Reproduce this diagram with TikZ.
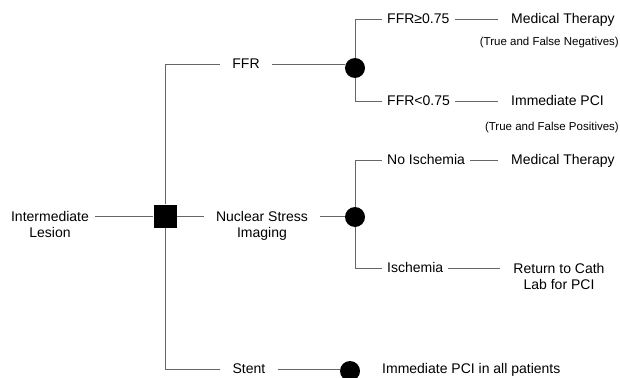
\documentclass[tikz,border=0pt]{standalone}
\usepackage{fontspec}
\setmainfont{Liberation Sans}
\usetikzlibrary{positioning}

\begin{document}
\begin{tikzpicture}[x=1pt, y=-1pt,
  branch/.style={line width=0.6pt, draw=black!60},
  optlbl/.style={font=\fontsize{14}{16}\selectfont, inner xsep=12pt, inner ysep=2pt, align=center},
  onerow/.style={text height=10pt, text depth=1pt},
  condlbl/.style={font=\fontsize{14}{16}\selectfont, inner xsep=5pt, inner ysep=2pt, onerow, anchor=west},
  outlbl/.style={font=\fontsize{14}{16}\selectfont, inner xsep=13pt, inner ysep=2pt, align=center},
  notelbl/.style={font=\fontsize{11.5}{13}\selectfont, inner sep=1pt, anchor=east},
  decbox/.style={rectangle, fill=black, inner sep=0pt, minimum size=23pt},
  chance/.style={circle, fill=black, inner sep=0pt, minimum size=20pt},
]
\useasboundingbox (0,0) rectangle (620,377);
\def\xdec{165}\def\xch{355}\def\xcond{382}\def\xout{498}
\def\yffr{64}\def\ynuc{216}\def\ystent{369}
\def\yhi{19}\def\ylo{101}\def\yno{160}\def\yis{268}

% decision square and chance circles
\node[decbox] (dec) at (\xdec,\ynuc) {};
\node[chance] (chffr) at (\xch,\yffr+4) {};
\node[chance] (chnuc) at (\xch,\ynuc+1) {};
\node[chance] (chstent) at (350,\ystent+2) {};

% root and the three strategies
\node[optlbl, inner xsep=6pt, anchor=north] (lesion) at (50,\ynuc-7) {Intermediate\\Lesion};
\node[optlbl, onerow] (ffr) at (246,\yffr) {FFR};
\node[optlbl, anchor=north] (nuc) at (262,\ynuc-7) {Nuclear Stress\\Imaging};
\node[optlbl, onerow] (stent) at (249,\ystent) {Stent};

\draw[branch] (lesion.east |- dec.west) -- (dec.west);
\draw[branch] (dec.north) |- (ffr.west);
\draw[branch] (dec.south) |- (stent.west);
\draw[branch] (dec.east) -- (dec.east -| nuc.west);
\draw[branch] (ffr.east) -- (ffr.east -| chffr.west);
\draw[branch] (dec.east -| nuc.east) -- (dec.east -| chnuc.west);
\draw[branch] (stent.east) -- (stent.east -| chstent.west);

% test results
\node[condlbl] (ffrhi) at (\xcond,\yhi) {FFR≥0.75};
\node[condlbl] (ffrlo) at (\xcond,\ylo) {FFR<0.75};
\node[condlbl] (noisch) at (\xcond,\yno) {No Ischemia};
\node[condlbl] (isch) at (\xcond,\yis) {Ischemia};

\draw[branch] (chffr.north) |- (ffrhi.west);
\draw[branch] (chffr.south) |- (ffrlo.west);
\draw[branch] (chnuc.north) |- (noisch.west);
\draw[branch] (chnuc.south) |- (isch.west);

% outcomes
\node[outlbl, onerow, anchor=west] (medA) at (\xout,\yhi) {Medical Therapy};
\node[outlbl, onerow, anchor=west] (pci) at (\xout,\ylo) {Immediate PCI};
\node[outlbl, onerow, anchor=west] (medB) at (\xout,\yno) {Medical Therapy};
\node[outlbl, anchor=north] (cath) at (559,\yis-7) {Return to Cath\\Lab for PCI};
\node[condlbl] (allpci) at (377,\ystent) {Immediate PCI in all patients};

\draw[branch] (ffrhi.east) -- (medA.west);
\draw[branch] (ffrlo.east) -- (pci.west);
\draw[branch] (noisch.east) -- (medB.west);
\draw[branch] (isch.east) -- (isch.east -| cath.west);

\node[notelbl] (neg) at (620,43) {(True and False Negatives)};
\node[notelbl] (pos) at (620,128) {(True and False Positives)};
\end{tikzpicture}
\end{document}
